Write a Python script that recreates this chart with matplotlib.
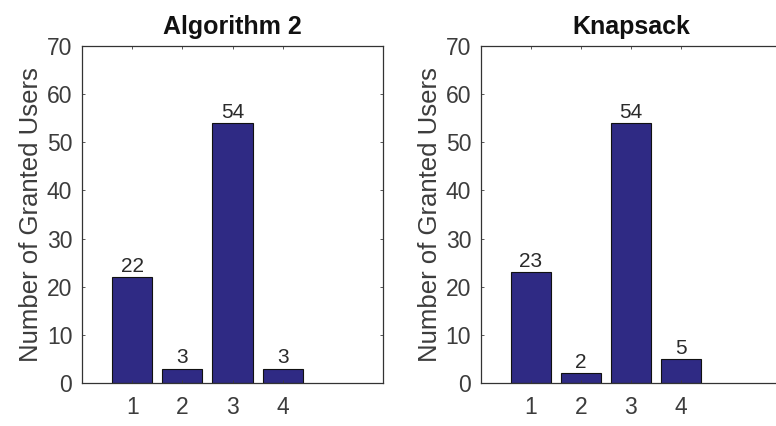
import matplotlib
matplotlib.use('Agg')
import matplotlib.pyplot as plt

categories = [1, 2, 3, 4]
algo2_users = [22, 3, 54, 3]
knapsack_users = [23, 2, 54, 5]
titles = ['Algorithm 2', 'Knapsack']

BAR = '#2F2A84'
GRAY = '#3C3C3C'

plt.rcParams['font.family'] = ['Liberation Sans', 'DejaVu Sans']

fig = plt.figure(figsize=(7.76, 4.26), dpi=100)
fig.patch.set_facecolor('white')
ax1 = fig.add_axes([0.1057, 0.1009, 0.3879, 0.7909])
ax2 = fig.add_axes([0.6198, 0.1009, 0.3866, 0.7909])


def draw_panel(ax, title, values):
    bars = ax.bar(categories, values, width=0.8, color=BAR,
                  edgecolor='#111111', linewidth=0.8)
    ax.set_xlim(0, 6)
    ax.set_ylim(0, 70)
    ax.set_xticks(categories)
    ax.set_yticks(range(0, 71, 10))
    ax.tick_params(direction='in', length=2, width=0.6, labelsize=16.5,
                   colors=GRAY, top=True, right=True, pad=7)
    ax.tick_params(axis='x', pad=9)
    for s in ax.spines.values():
        s.set_color('#333333')
        s.set_linewidth(0.9)
    ax.set_ylabel('Number of Granted Users', fontsize=18.5, color=GRAY,
                  labelpad=3)
    ax.set_title(title, fontsize=18, fontweight='bold', color='#111111',
                 pad=9)
    for bar, v in zip(bars, values):
        ax.text(bar.get_x() + bar.get_width() / 2, v + 0.3, str(v),
                ha='center', va='bottom', fontsize=15, color='#2A2A2A')


draw_panel(ax1, titles[0], algo2_users)
draw_panel(ax2, titles[1], knapsack_users)

fig.savefig('out.png', dpi=100, facecolor='white')
